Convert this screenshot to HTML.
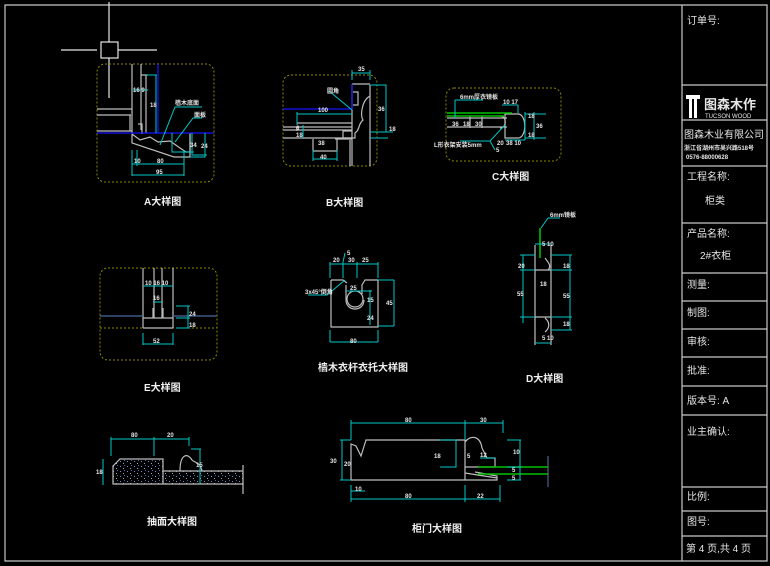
<!DOCTYPE html>
<html><head><meta charset="utf-8"><style>
html,body{margin:0;padding:0;background:#000;}
svg{display:block}
text{font-family:"Liberation Sans","Noto Sans CJK SC",sans-serif;}
</style></head><body>
<svg width="770" height="566" viewBox="0 0 770 566" xmlns="http://www.w3.org/2000/svg">
<defs>
<pattern id="sp" width="7" height="5" patternUnits="userSpaceOnUse">
<rect width="7" height="5" fill="#000"/>
<rect x="1" y="1" width="1" height="1" fill="#6f8fd0"/>
<rect x="4" y="3" width="1" height="1" fill="#9aa8c8"/>
<rect x="5" y="0" width="1" height="1" fill="#4a66a8"/>
</pattern>
</defs>
<rect width="770" height="566" fill="#000"/>
<g stroke="#c8c8c8" stroke-width="1.2" fill="none">
<path d="M5 5H767V561H5Z"/>
<path d="M682 5V561"/>
<path d="M682 85H767M682 120H767M682 166H767M682 223H767M682 273H767M682 301H767M682 329H767M682 357H767M682 386H767M682 415H767M682 487H767M682 511H767M682 536H767"/>
</g>
<g fill="#e6e6e6" font-size="10">
<text x="687" y="24">订单号:</text>
<text x="687" y="180">工程名称:</text>
<text x="705" y="204">柜类</text>
<text x="687" y="237">产品名称:</text>
<text x="700" y="259">2#衣柜</text>
<text x="687" y="288">测量:</text>
<text x="687" y="316">制图:</text>
<text x="687" y="345">审核:</text>
<text x="687" y="374">批准:</text>
<text x="687" y="404">版本号: A</text>
<text x="687" y="435">业主确认:</text>
<text x="687" y="500">比例:</text>
<text x="687" y="525">图号:</text>
<text x="686" y="552">第 4 页,共 4 页</text>
<text x="684" y="138">图森木业有限公司</text>
<text x="704" y="109" font-size="13" font-weight="bold">图森木作</text>
<text x="705" y="118" font-size="6">TUCSON WOOD</text>
<text x="684" y="150" font-size="6" font-weight="bold">浙江省湖州市吴兴路518号</text>
<text x="686" y="159" font-size="6" font-weight="bold">0576-88000628</text>
</g>
<path d="M686 95h14v4h-3v19h-3v-19h-2v19h-3v-19h-3z" fill="#fff"/>

<g stroke="#e6e6e6" stroke-width="1.2" fill="none">
<path d="M61 50H97M118 50H157M109 2V42M109 58V98"/>
<rect x="101" y="42" width="17" height="16"/>
</g>

<g stroke="#8a8a00" stroke-width="1" stroke-dasharray="2,2" fill="none">
<rect x="97" y="64" width="117" height="118" rx="8"/>
<rect x="283" y="75" width="94" height="91" rx="8"/>
<rect x="446" y="88" width="115" height="73" rx="8"/>
<rect x="100" y="268" width="117" height="92" rx="8"/>
<path d="M100 328H217"/>
</g>

<g stroke="#bdbdbd" stroke-width="1.2" fill="none">
<path d="M132 64V133M141 64V130M146 75V133M141 75H148"/>
<path d="M97 109H132M97 115H131M97 131H132M130 115V131"/>
<path d="M138 124H142V134M132 134L140 140L150 137L158 142L170 141L180 148L186 152H190V133"/>
<path d="M132 134V143L174 157H190V133"/>
</g>
<g stroke="#1515ff" stroke-width="1.2"><path d="M158 64V133M97 133H214"/></g>
<g stroke="#00c8c8" stroke-width="1" fill="none">
<path d="M132 90H148M156 75V133M146 75H157"/>
<path d="M132 150V176M137 150V166M184 150V176M132 164H184M132 175H184"/>
<path d="M172 133V152H194M192 133V155H207M205 133V157H190"/>
<path d="M160 145L175 107H202M175 142L193 118H202"/>
</g>
<g fill="#e6e6e6" font-size="6" font-weight="bold">
<text x="133" y="92">16 9</text><text x="150" y="107">18</text>
<text x="175" y="105">樯木底面</text><text x="194" y="117">面板</text>
<text x="190" y="147">34</text><text x="201" y="148">24</text>
<text x="134" y="163">10</text><text x="157" y="163">80</text><text x="156" y="174">95</text>
</g>

<g stroke="#bdbdbd" stroke-width="1.2" fill="none">
<path d="M352 84V166M370 85V166M352 84H370"/>
<path d="M353 92H358V105H353M370 96C362 100 360 115 363 120C358 124 360 130 355 133V138H343V131H352"/>
<path d="M283 127H352M283 130H352M297 123H352M297 127V131M283 138H352M313 139V151H337V139M335 139H352M350 140V166"/>
</g>
<g stroke="#1515ff" stroke-width="1.2"><path d="M283 109H352M352 84V110"/></g>
<g stroke="#00c8c8" stroke-width="1" fill="none">
<path d="M352 73H370M352 70V80M370 70V80M297 114H352M297 112V125M370 85H386V132M370 132H393M370 138H388"/>
<path d="M329 91L352 110M313 159H337M313 150V161M337 150V161M303 125V138"/>
</g>
<g fill="#e6e6e6" font-size="6" font-weight="bold">
<text x="358" y="71">35</text><text x="327" y="93">圆角</text><text x="318" y="112">100</text>
<text x="378" y="111">36</text><text x="389" y="131">18</text>
<text x="296" y="130">6</text><text x="296" y="137">18</text>
<text x="318" y="145">38</text><text x="320" y="159">40</text>
</g>

<g stroke="#bdbdbd" stroke-width="1.2" fill="none">
<path d="M447 118H507M447 127H507M470 116V128M482 116V128M500 116C507 116 507 128 500 128"/>
<path d="M505 114V138H518C527 138 527 114 518 114Z"/>
</g>
<g stroke="#00c000" stroke-width="1.6"><path d="M447 113H512M447 116H504"/></g>
<g stroke="#00c8c8" stroke-width="1" fill="none">
<path d="M455 100H483M455 100V118M502 105H518M518 105V114M525 112V140M534 112V140M525 114H546M525 138H546M460 141H490L505 125M490 141L495 150"/>
<path d="M505 140H525"/>
</g>
<g fill="#e6e6e6" font-size="6" font-weight="bold">
<text x="460" y="99">6mm厚衣镜板</text><text x="503" y="104">10 17</text>
<text x="452" y="126">36</text><text x="463" y="126">18</text><text x="475" y="126">30</text>
<text x="434" y="147">L形衣架安装5mm</text><text x="497" y="145">20</text><text x="506" y="145">38 10</text>
<text x="528" y="118">18</text><text x="536" y="128">36</text><text x="528" y="137">18</text><text x="496" y="152">5</text>
</g>

<g stroke="#bdbdbd" stroke-width="1.2" fill="none">
<path d="M143 268V328M154 268V318M162 268V318M173 268V328M143 318H173M143 328H173M153 308V318H163V308"/>
</g>
<g stroke="#4a6aa0" stroke-width="1.2"><path d="M100 316H143M173 316H217"/></g>
<g stroke="#00c8c8" stroke-width="1" fill="none">
<path d="M143 286H173M153 302H163M143 333V345M173 333V345M143 344H173M176 306H190M176 318H190M176 328H190M188 306V328"/>
</g>
<g fill="#e6e6e6" font-size="6" font-weight="bold">
<text x="145" y="285">10 16 10</text><text x="153" y="300">16</text>
<text x="189" y="316">24</text><text x="189" y="327">18</text><text x="153" y="343">52</text>
</g>

<g stroke="#bdbdbd" stroke-width="1.2" fill="none">
<path d="M331 280V327H378V280H365L362 285V294M331 280H343L347 283"/>
<circle cx="355" cy="299" r="8"/>
<path d="M346 285V300C346 312 364 312 364 300"/>
</g>
<g stroke="#00c8c8" stroke-width="1" fill="none">
<path d="M330 264H378M330 262V278M343 262V278M357 262V278M378 262V278M343 262L345 253"/>
<path d="M346 291H372M370 290V325M378 280H394M378 326H394M394 280V326"/>
<path d="M330 330V342M378 330V342M330 342H378M308 295H327L345 280"/>
</g>
<g fill="#e6e6e6" font-size="6" font-weight="bold">
<text x="333" y="262">20</text><text x="348" y="262">30</text><text x="362" y="262">25</text>
<text x="347" y="255">5</text><text x="350" y="290">25</text><text x="367" y="302">15</text>
<text x="367" y="320">24</text><text x="386" y="305">45</text><text x="350" y="343">80</text>
<text x="305" y="294">3x45°倒角</text>
</g>

<g stroke="#bdbdbd" stroke-width="1.2" fill="none">
<path d="M535 245V345M551 245V345M535 270H551M535 317H551M545 258C548 262 552 266 548 270M545 318C550 322 550 328 545 332"/>
</g>
<g stroke="#00c000" stroke-width="1.6"><path d="M540 228V258"/></g>
<g stroke="#00c8c8" stroke-width="1" fill="none">
<path d="M523 255V323M520 255H535M520 270H535M520 317H535M570 255V330M551 255H572M551 270H572M551 317H572M551 330H572"/>
<path d="M535 244H551M535 343H551M541 228L548 218H560"/>
</g>
<g fill="#e6e6e6" font-size="6" font-weight="bold">
<text x="542" y="246">5 10</text><text x="518" y="268">20</text><text x="517" y="296">55</text>
<text x="563" y="268">18</text><text x="563" y="298">55</text><text x="563" y="326">18</text>
<text x="540" y="286">18</text><text x="542" y="340">5 10</text><text x="550" y="217">6mm镜板</text>
</g>

<path d="M113 484V466L120 459H163V471H243V484Z" fill="url(#sp)"/>
<g stroke="#bdbdbd" stroke-width="1.2" fill="none">
<path d="M113 484V466L120 459H163V484ZM163 471H243V484H113M180 471C180 453 188 453 192 460C195 463 200 462 202 471M243 465V494"/>
</g>
<g stroke="#00c8c8" stroke-width="1" fill="none">
<path d="M111 439H189M111 437V456M154 437V456M189 437V446M103 459V485M191 449H201M200 449V484"/>
</g>
<g fill="#e6e6e6" font-size="6" font-weight="bold">
<text x="131" y="437">80</text><text x="167" y="437">20</text><text x="96" y="474">18</text><text x="196" y="467">15</text>
</g>

<g stroke="#bdbdbd" stroke-width="1.2" fill="none">
<path d="M351 480V444L356 446L361 456L366 440H465V480ZM465 442C470 435 480 435 482 448L487 458H495V467H465M465 467V480H497V476L475 472M465 473L497 478"/>
</g>
<g stroke="#00c000" stroke-width="1.6"><path d="M478 467H548M478 474H548"/></g>
<g stroke="#5a7aa0"><path d="M548 456V487"/></g>
<g stroke="#00c8c8" stroke-width="1" fill="none">
<path d="M351 423H503M351 420V440M465 420V440M503 420V433M340 440H351M340 480H351M342 440V480M351 499H500M351 485V502M465 485V502M500 485V502M351 491H365"/>
<path d="M440 440H456V467H440M480 458H495M520 440V480M507 440H521M507 467H521M507 480H521"/>
</g>
<g fill="#e6e6e6" font-size="6" font-weight="bold">
<text x="405" y="422">80</text><text x="480" y="422">30</text><text x="330" y="463">30</text><text x="344" y="466">20</text>
<text x="434" y="458">18</text><text x="467" y="458">5</text><text x="480" y="457">12</text><text x="513" y="454">10</text>
<text x="512" y="472">5</text><text x="512" y="480">5</text><text x="355" y="491">10</text>
<text x="405" y="498">80</text><text x="477" y="498">22</text>
</g>

<g fill="#f0f0f0" font-size="10" font-weight="bold">
<text x="144" y="205">A大样图</text>
<text x="326" y="206">B大样图</text>
<text x="492" y="180">C大样图</text>
<text x="144" y="391">E大样图</text>
<text x="318" y="371">樯木衣杆衣托大样图</text>
<text x="526" y="382">D大样图</text>
<text x="147" y="525">抽面大样图</text>
<text x="412" y="532">柜门大样图</text>
</g>
</svg>
</body></html>
